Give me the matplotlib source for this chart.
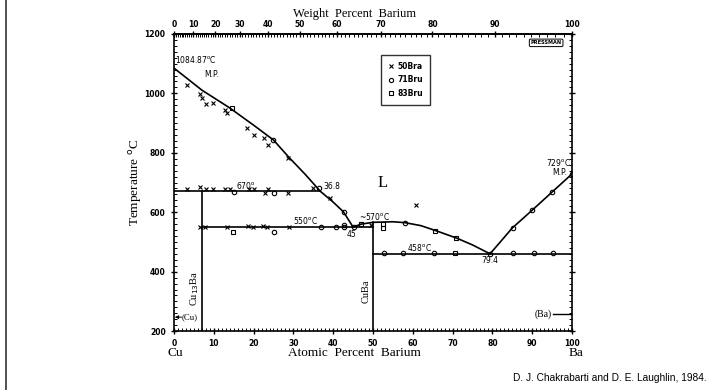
import numpy as np
import matplotlib
matplotlib.use("Agg")
import matplotlib.pyplot as plt
from matplotlib.ticker import MultipleLocator, FixedLocator
from matplotlib.lines import Line2D

# ---------------- data ----------------
liq_cu_at = [0, 3.5, 7, 10.5, 14, 20, 25, 29, 33, 36.8, 40, 42.6, 45]
liq_cu_T = [1085, 1048, 1011, 981, 951, 893, 843, 783, 727, 670, 634, 601, 550]

dome_at = [45, 47, 50, 55, 58, 62, 66, 71, 75, 79.4]
dome_T = [550, 560, 566, 568, 565, 555, 537, 513, 490, 460]

liq_ba_at = [79.4, 85, 90, 95, 100]
liq_ba_T = [460, 547, 607, 668, 729]

peritectic_at = [0, 36.8]
peritectic_T = [670, 670]
eut1_at = [7.14, 50]
eut1_T = [550, 550]
eut2_at = [50, 100]
eut2_T = [460, 460]
cu13ba_at = [7.14, 7.14]
cu13ba_T = [200, 670]
cuba_at = [50, 50]
cuba_T = [200, 566]

x_at = [3.3, 6.5, 7, 8, 9.8, 12.8, 13.4, 18.4, 20, 22.7, 23.7, 28.7,
        3.3, 6.5, 8, 9.8, 12.8, 14.1, 18.9, 20.1, 22.9, 23.7, 28.7, 35, 39.3,
        6.5, 7.8, 13.4, 18.6, 19.9, 22.4, 23.4, 29, 49.4, 60.7]
x_T = [1028, 998, 985, 964, 967, 944, 934, 883, 860, 850, 826, 782,
       678, 684, 678, 678, 678, 678, 678, 678, 665, 678, 665, 681, 648,
       550, 550, 550, 553, 550, 553, 550, 550, 557, 624]

o_at = [25, 15, 25.2, 36.5, 25.2, 37, 40.6, 42.8, 45.3, 42.8, 42.8, 58,
        52.7, 57.5, 65.3, 79.4, 85.1, 90.4, 95.2, 85.1, 89.9, 95, 100]
o_T = [843, 668, 665, 681, 533, 550, 550, 550, 550, 601, 557, 564,
       463, 463, 463, 460, 463, 463, 463, 547, 607, 668, 729]

s_at = [14.6, 14.9, 47, 52.4, 52.4, 65.7, 70.8, 70.5]
s_T = [950, 533, 560, 560, 547, 537, 513, 463]

y_ticks = [200, 400, 600, 800, 1000, 1200]
at_ticks = [0, 10, 20, 30, 40, 50, 60, 70, 80, 90, 100]
wt_ticks = [0, 10, 20, 30, 40, 50, 60, 70, 80, 90, 100]

M_CU, M_BA = 63.546, 137.33


def at2wt(a):
    a = np.asarray(a, dtype=float)
    return a * M_BA / (a * M_BA + (100 - a) * M_CU) * 100


def wt2at(w):
    w = np.asarray(w, dtype=float)
    return (w / M_BA) / (w / M_BA + (100 - w) / M_CU) * 100


serif = "Liberation Serif"
tickfont = dict(family="DejaVu Sans", size=5.5, weight="bold")

fig = plt.figure(figsize=(7.09, 3.90), dpi=100)
ax = fig.add_axes([0.2454, 0.151, 0.5614, 0.762])

lk = dict(color="black", lw=1.2)
ax.plot(liq_cu_at, liq_cu_T, **lk)
ax.plot(dome_at, dome_T, **lk)
ax.plot(liq_ba_at, liq_ba_T, **lk)
ax.plot(peritectic_at, peritectic_T, **lk)
ax.plot(eut1_at, eut1_T, **lk)
ax.plot(eut2_at, eut2_T, **lk)
ax.plot(cu13ba_at, cu13ba_T, **lk)
ax.plot(cuba_at, cuba_T, **lk)

ax.plot(x_at, x_T, ls="none", marker="x", ms=3.5, mew=0.8, color="black")
ax.plot(o_at, o_T, ls="none", marker="o", ms=3.2, mew=0.8, mfc="none", color="black")
ax.plot(s_at, s_T, ls="none", marker="s", ms=3.0, mew=0.8, mfc="none", color="black")

ax.set_xlim(0, 100)
ax.set_ylim(200, 1200)
ax.xaxis.set_major_locator(FixedLocator(at_ticks))
ax.xaxis.set_minor_locator(MultipleLocator(1))
ax.yaxis.set_major_locator(FixedLocator(y_ticks))
ax.yaxis.set_minor_locator(MultipleLocator(20))
ax.tick_params(which="major", direction="inout", length=5, width=1.0, right=True, labelsize=5.5)
ax.tick_params(which="minor", direction="in", length=2.2, width=0.7, right=True)
ax.set_xticklabels([str(t) for t in at_ticks], fontdict=tickfont)
ax.set_yticklabels([str(t) for t in y_ticks], fontdict=tickfont)
for s in ax.spines.values():
    s.set_linewidth(1.2)

sec = ax.secondary_xaxis("top", functions=(at2wt, wt2at))
sec.xaxis.set_major_locator(FixedLocator(wt_ticks))
sec.xaxis.set_minor_locator(FixedLocator(list(range(0, 101))))
sec.tick_params(which="major", direction="inout", length=5, width=1.0, labelsize=5.5, pad=1)
sec.tick_params(which="minor", direction="in", length=2.2, width=0.7)
sec.set_xticklabels([str(t) for t in wt_ticks], fontdict=tickfont)
sec.spines["top"].set_linewidth(1.2)

# axis titles
fig.text(0.50, 0.965, "Weight  Percent  Barium", ha="center", va="center",
         family=serif, fontsize=9)
fig.text(0.50, 0.095, "Atomic  Percent  Barium", ha="center", va="center",
         family=serif, fontsize=9.5)
fig.text(0.247, 0.095, "Cu", ha="center", va="center", family=serif, fontsize=9.5)
fig.text(0.812, 0.095, "Ba", ha="center", va="center", family=serif, fontsize=9.5)
ax.set_ylabel("Temperature $^{\\mathrm{o}}$C", family=serif, fontsize=9.5)
ax.yaxis.set_label_coords(-0.075, 0.5)

fig.text(0.997, 0.03, "D. J. Chakrabarti and D. E. Laughlin, 1984.", ha="right",
         va="center", family="Liberation Sans", fontsize=7.3)

# annotations
af = dict(family="DejaVu Sans", fontsize=5.5, color="black")
ax.text(0.3, 1095, "1084.87$^{\\mathrm{o}}$C", ha="left", va="bottom", **af)
ax.text(9.5, 1080, "M.P.", ha="center", va="top", **af)
ax.text(15.5, 672, "670$^{\\mathrm{o}}$", ha="left", va="bottom", **af)
ax.text(37.5, 672, "36.8", ha="left", va="bottom", **af)
ax.text(30.0, 553, "550$^{\\mathrm{o}}$C", ha="left", va="bottom", **af)
ax.text(44.5, 540, "45", ha="center", va="top", **af)
ax.text(46.5, 567, "~570$^{\\mathrm{o}}$C", ha="left", va="bottom", **af)
ax.text(58.5, 462, "458$^{\\mathrm{o}}$C", ha="left", va="bottom", **af)
ax.text(79.4, 453, "79.4", ha="center", va="top", **af)
ax.text(96.5, 750, "729$^{\\mathrm{o}}$C", ha="center", va="bottom", **af)
ax.text(97.0, 748, "M.P.", ha="center", va="top", **af)
ax.text(52.5, 698, "L", ha="center", va="center", family=serif, fontsize=12)
ax.text(5.3, 345, "Cu$_{13}$Ba", rotation=90, ha="center", va="center",
        family=serif, fontsize=7.5)
ax.text(48.2, 335, "CuBa", rotation=90, ha="center", va="center",
        family=serif, fontsize=7.5)
ax.annotate("", xy=(0.2, 247), xytext=(1.9, 247),
            arrowprops=dict(arrowstyle="-|>", lw=0.7, color="black",
                            mutation_scale=5, shrinkA=0, shrinkB=0))
ax.text(1.9, 247, "(Cu)", ha="left", va="center", family=serif, fontsize=6.3)
ax.plot([95.3, 100], [257, 257], color="black", lw=1.0)
ax.text(95.0, 257, "(Ba)", ha="right", va="center", family=serif, fontsize=7)
ax.text(93.5, 1170, "PRESSMAN", ha="center", va="center", fontsize=3.6, weight="bold",
        family="DejaVu Sans",
        bbox=dict(boxstyle="round,pad=0.25", fc="white", ec="black", lw=0.7))

handles = [Line2D([], [], ls="none", marker="x", ms=3.2, mew=0.8, color="black"),
           Line2D([], [], ls="none", marker="o", ms=3.0, mew=0.8, mfc="none", color="black"),
           Line2D([], [], ls="none", marker="s", ms=2.8, mew=0.8, mfc="none", color="black")]
leg = ax.legend(handles, ["50Bra", "71Bru", "83Bru"], loc="upper left",
                bbox_to_anchor=(0.52, 0.93), frameon=True, fancybox=False,
                prop=dict(family="DejaVu Sans", size=5.5, weight="bold"),
                handlelength=0.8, handletextpad=0.5, labelspacing=0.6,
                borderpad=0.9, borderaxespad=0)
leg.get_frame().set_edgecolor("black")
leg.get_frame().set_linewidth(1.0)

# scan border line at the left edge
fig.add_artist(Line2D([0.0085, 0.0085], [0.0, 1.0], color="#333333", lw=1.2,
                      transform=fig.transFigure))

fig.savefig("out.png", dpi=100)
